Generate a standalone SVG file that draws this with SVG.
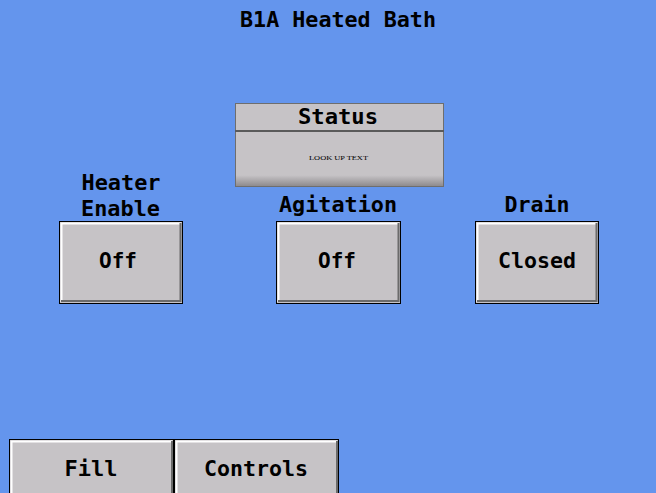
<svg xmlns="http://www.w3.org/2000/svg" width="656" height="493" viewBox="0 0 656 493">
<defs>
<style>
.t{font-family:"DejaVu Sans Mono","Liberation Mono",monospace;font-weight:bold;font-size:21px;fill:#000;text-anchor:middle}
.face{fill:#C6C3C6}
.hi{stroke:#FFFFFF;stroke-width:2;fill:none}
.lo{stroke:#6B6B6B;stroke-width:2;fill:none}
.edge{stroke:#000;stroke-width:1;fill:none}
</style>
<linearGradient id="sh" x1="0" y1="0" x2="0" y2="1">
<stop offset="0" stop-color="#C6C3C6"/>
<stop offset="0.8" stop-color="#C6C3C6"/>
<stop offset="1" stop-color="#8E8B8E"/>
</linearGradient>
</defs>
<rect width="656" height="493" fill="#6495ED"/>
<g id="title"><text class="t" x="338" y="27" textLength="196" lengthAdjust="spacingAndGlyphs">B1A Heated Bath</text></g>
<g id="status">
<rect x="235.5" y="103.5" width="208" height="83" fill="#C6C3C6" stroke="#6E6E6E"/>
<rect x="236" y="132" width="207" height="54" fill="url(#sh)"/>
<line x1="235" y1="131" x2="444" y2="131" stroke="#5A5A5A" stroke-width="2"/>
<text class="t" x="338" y="124" textLength="80" lengthAdjust="spacingAndGlyphs">Status</text>
<text x="338.5" y="160" font-family="Liberation Serif,serif" font-size="7" text-anchor="middle" fill="#000" textLength="59" lengthAdjust="spacingAndGlyphs">LOOK UP TEXT</text>
</g>
<g id="heater">
<text class="t" x="121" y="190" textLength="79" lengthAdjust="spacingAndGlyphs">Heater</text>
<text class="t" x="120.5" y="216" textLength="79" lengthAdjust="spacingAndGlyphs">Enable</text>
<rect class="face" x="60" y="222" width="122" height="81"/>
<path class="hi" d="M61.5,302 V223.5 H181"/>
<path class="lo" d="M61,301 H180.5 V223"/>
<rect class="edge" x="59.5" y="221.5" width="123" height="82"/>
<text class="t" x="118" y="268" textLength="38" lengthAdjust="spacingAndGlyphs">Off</text>
</g>
<g id="agitation">
<text class="t" x="338" y="212" textLength="118" lengthAdjust="spacingAndGlyphs">Agitation</text>
<rect class="face" x="277" y="222" width="123" height="81"/>
<path class="hi" d="M278.5,302 V223.5 H399"/>
<path class="lo" d="M278,301 H398.5 V223"/>
<rect class="edge" x="276.5" y="221.5" width="124" height="82"/>
<text class="t" x="337" y="268" textLength="38" lengthAdjust="spacingAndGlyphs">Off</text>
</g>
<g id="drain">
<text class="t" x="537" y="212" textLength="65" lengthAdjust="spacingAndGlyphs">Drain</text>
<rect class="face" x="476" y="222" width="122" height="81"/>
<path class="hi" d="M477.5,302 V223.5 H597"/>
<path class="lo" d="M477,301 H596.5 V223"/>
<rect class="edge" x="475.5" y="221.5" width="123" height="82"/>
<text class="t" x="537" y="268" textLength="78" lengthAdjust="spacingAndGlyphs">Closed</text>
</g>
<g id="fill">
<rect class="face" x="10" y="440" width="163" height="53"/>
<path class="hi" d="M11.5,493 V441.5 H172"/>
<path class="lo" d="M172,441 V493"/>
<rect class="edge" x="9.5" y="439.5" width="164" height="55"/>
<text class="t" x="91" y="476" textLength="53" lengthAdjust="spacingAndGlyphs">Fill</text>
</g>
<g id="controls">
<rect class="face" x="175" y="440" width="163" height="53"/>
<path class="hi" d="M176.5,493 V441.5 H337"/>
<path class="lo" d="M337,441 V493"/>
<rect class="edge" x="174.5" y="439.5" width="164" height="55"/>
<text class="t" x="256" y="476" textLength="104" lengthAdjust="spacingAndGlyphs">Controls</text>
</g>
<g id="connectors"></g>
</svg>
